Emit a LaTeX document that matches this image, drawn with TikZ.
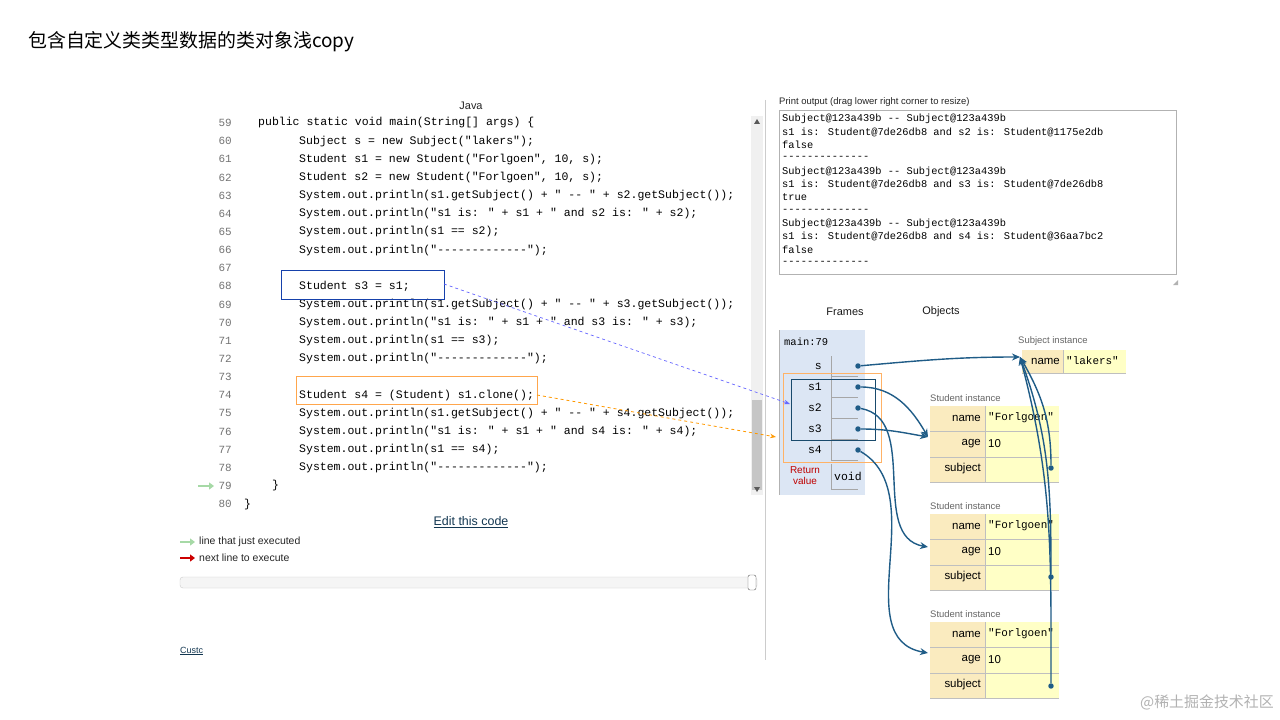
\documentclass[tikz,border=0pt]{standalone}
\usepackage{fontspec}
\setmainfont{Liberation Sans}
\newfontfamily\cjk{Noto Sans CJK SC}
\newfontfamily\mono{Liberation Mono}
\usetikzlibrary{arrows.meta}
\definecolor{ptr}{HTML}{1F5C87}
\definecolor{hcell}{HTML}{FAEBBF}
\definecolor{vcell}{HTML}{FFFFC6}
\definecolor{frm}{HTML}{DCE6F4}
\begin{document}
\begin{tikzpicture}[x=1bp,y=-1bp,
  code/.style={anchor=west,inner sep=0,font=\mono\fontsize{11.55}{12}\selectfont},
  ln/.style={anchor=east,inner sep=0,text=gray!90!black,font=\mono\fontsize{11}{12}\selectfont},
  outp/.style={anchor=west,inner sep=0,font=\mono\fontsize{10.4}{12}\selectfont},
  var/.style={anchor=east,inner sep=0,font=\mono\fontsize{11.5}{12}\selectfont},
  small/.style={inner sep=0,text=gray!80!black,font=\fontsize{9.5}{11}\selectfont},
  pa/.style={ptr,line width=1.4pt,-{Stealth[length=8pt,width=7pt]}},
  dot/.style={circle,fill=ptr,inner sep=0,minimum size=5.5pt}]
\useasboundingbox (0,0) rectangle (1280,720);
\fill[white] (0,0) rectangle (1280,720);
\node[anchor=west,inner sep=0,font=\cjk\fontsize{19}{22}\selectfont] (title) at (28,42) {包含自定义类类型数据的类对象浅copy};
% code panel
\node[inner sep=0,font=\fontsize{11}{12}\selectfont,text=gray!30!black] (java) at (471,106) {Java};
\fill[gray!12] (751,116) rectangle (763,495);
\fill[gray!45] (752,400) rectangle (762,490);
\fill[gray!70!black] (754,124) -- (760,124) -- (757,119) -- cycle;
\fill[gray!70!black] (754,487) -- (760,487) -- (757,492) -- cycle;
\draw[gray!40] (765,100) -- (765,660);
\foreach \n/\x/\t [count=\i from 0] in {
59/258/{public static void main(String[] args) \{},
60/299/{Subject s = new Subject("lakers");},
61/299/{Student s1 = new Student("Forlgoen", 10, s);},
62/299/{Student s2 = new Student("Forlgoen", 10, s);},
63/299/{System.out.println(s1.getSubject() + " -{}- " + s2.getSubject());},
64/299/{System.out.println("s1 is: " + s1 + " and s2 is: " + s2);},
65/299/{System.out.println(s1 == s2);},
66/299/{System.out.println("-{}-{}-{}-{}-{}-{}-{}-{}-{}-{}-{}-{}-");},
67/299/{},
68/299/{Student s3 = s1;},
69/299/{System.out.println(s1.getSubject() + " -{}- " + s3.getSubject());},
70/299/{System.out.println("s1 is: " + s1 + " and s3 is: " + s3);},
71/299/{System.out.println(s1 == s3);},
72/299/{System.out.println("-{}-{}-{}-{}-{}-{}-{}-{}-{}-{}-{}-{}-");},
73/299/{},
74/299/{Student s4 = (Student) s1.clone();},
75/299/{System.out.println(s1.getSubject() + " -{}- " + s4.getSubject());},
76/299/{System.out.println("s1 is: " + s1 + " and s4 is: " + s4);},
77/299/{System.out.println(s1 == s4);},
78/299/{System.out.println("-{}-{}-{}-{}-{}-{}-{}-{}-{}-{}-{}-{}-");},
79/272/{\}},
80/244/{\}}}{
  \node[ln] at (232,{123+18.15*\i}) {\n};
  \node[code] at (\x,{123+18.15*\i}) {\t};
}
\draw[ptr!70!blue,line width=0.8pt] (281,270) rectangle (444,299);
\draw[orange!70,line width=0.8pt] (296,376) rectangle (537,404);
\coordinate (b1) at (444,284);
\coordinate (b2) at (537,395);
\draw[green!40!gray!50,line width=2.5pt,-{Triangle[length=5pt,width=7pt]}] (198,486) -- (214,486);
\node[inner sep=0,text=ptr!60!black,font=\fontsize{12.5}{14}\selectfont] (edit) at (471,522) {\underline{Edit this code}};
\draw[green!40!gray!50,line width=2.5pt,-{Triangle[length=5pt,width=7pt]}] (180,542) -- (195,542);
\draw[red!80!black,line width=2.5pt,-{Triangle[length=5pt,width=7pt]}] (180,558) -- (195,558);
\node[anchor=west,small,font=\fontsize{10.5}{12}\selectfont,text=gray!30!black] (l1) at (199,542) {line that just executed};
\node[anchor=west,small,font=\fontsize{10.5}{12}\selectfont,text=gray!30!black] (l2) at (199,558) {next line to execute};
\draw[gray!40,fill=gray!8,rounded corners=3pt] (180,577) rectangle (757,588);
\draw[gray!70!black,fill=white,rounded corners=2pt] (748,575) rectangle (756,590);
\node[anchor=west,inner sep=0,text=ptr!60!black,font=\fontsize{9}{10}\selectfont] (cust) at (180,651) {\underline{Custc}};
% print output
\node[anchor=west,small,font=\fontsize{9.5}{11}\selectfont,text=gray!30!black] (pol) at (779,102) {Print output (drag lower right corner to resize)};
\draw[gray!60] (779,110) rectangle (1176,274);
\foreach \t [count=\i from 0] in {
Subject@123a439b -{}- Subject@123a439b,
s1 is: Student@7de26db8 and s2 is: Student@1175e2db,
false,
-{}-{}-{}-{}-{}-{}-{}-{}-{}-{}-{}-{}-{}-,
Subject@123a439b -{}- Subject@123a439b,
s1 is: Student@7de26db8 and s3 is: Student@7de26db8,
true,
-{}-{}-{}-{}-{}-{}-{}-{}-{}-{}-{}-{}-{}-,
Subject@123a439b -{}- Subject@123a439b,
s1 is: Student@7de26db8 and s4 is: Student@36aa7bc2,
false,
-{}-{}-{}-{}-{}-{}-{}-{}-{}-{}-{}-{}-{}-}{
  \node[outp] at (782,{119+13.1*\i}) {\t};
}
\fill[gray!60] (1178,280) -- (1178,285) -- (1173,285) -- cycle;
% frames
\node[inner sep=0,font=\fontsize{11}{12}\selectfont,text=gray!20!black] (fr) at (845,312) {Frames};
\node[inner sep=0,font=\fontsize{11}{12}\selectfont,text=gray!20!black] (ob) at (941,312) {Objects};
\fill[frm] (779,330) rectangle (865,495);
\draw[gray!60] (779,330) -- (779,495);
\node[anchor=west,inner sep=0,font=\mono\fontsize{10.5}{12}\selectfont] (mn) at (784,342) {main:79};
\foreach \v/\y in {s/366,s1/387,s2/408,s3/429,s4/450}{
  \node[var] at (822,\y) {\v};
  \draw[gray!70] (831,{\y-10}) -- (831,{\y+10}) -- (858,{\y+10});
}
\node[dot] (ps) at (858,366) {};
\node[dot] (p1) at (858,387) {};
\node[dot] (p2) at (858,408) {};
\node[dot] (p3) at (858,429) {};
\node[dot] (p4) at (858,450) {};
\node[inner sep=0,align=center,text=red!75!black,font=\fontsize{10}{11}\selectfont] (rv) at (805,476) {Return\\value};
\draw[gray!70] (831,464) -- (831,489) -- (858,489);
\node[anchor=west,inner sep=0,font=\mono\fontsize{11.5}{12}\selectfont] (void) at (834,476) {void};
\draw[orange!60,line width=0.7pt] (783,373) rectangle (881,462);
\draw[ptr!80!black,line width=0.8pt] (791,379) rectangle (875,440);
% heap
\node[anchor=west,small] (subl) at (1018,341) {Subject instance};
\fill[hcell] (1022,350) rectangle (1063,373);
\fill[vcell] (1063,350) rectangle (1126,373);
\draw[gray!50] (1063,350) -- (1063,373) (1022,373) -- (1126,373);
\node[anchor=east,inner sep=0,font=\fontsize{11.5}{12}\selectfont] at (1060,361) {name};
\node[anchor=west,inner sep=0,font=\mono\fontsize{11}{12}\selectfont] at (1066,361) {"lakers"};
\coordinate (subj) at (1020,357);
\foreach \k/\t in {1/406,2/514,3/622}{
  \node[anchor=west,small] at (930,{\t-8}) {Student instance};
  \fill[hcell] (930,\t) rectangle (985,{\t+76});
  \fill[vcell] (985,\t) rectangle (1059,{\t+76});
  \draw[gray!50] (985,\t) -- (985,{\t+76});
  \draw[gray!50] (930,{\t+25}) -- (1059,{\t+25}) (930,{\t+51}) -- (1059,{\t+51}) (930,{\t+76}) -- (1059,{\t+76});
  \node[anchor=east,inner sep=0,font=\fontsize{11.5}{12}\selectfont] at (981,{\t+12}) {name};
  \node[anchor=east,inner sep=0,font=\fontsize{11.5}{12}\selectfont] at (981,{\t+38}) {age};
  \node[anchor=east,inner sep=0,font=\fontsize{11.5}{12}\selectfont] at (981,{\t+63}) {subject};
  \node[anchor=west,inner sep=0,font=\mono\fontsize{11}{12}\selectfont] at (988,{\t+12}) {"Forlgoen"};
  \node[anchor=west,inner sep=0,font=\fontsize{11.5}{12}\selectfont] at (988,{\t+38}) {10};
}
\coordinate (st1) at (928,437);
\coordinate (st2) at (928,547);
\coordinate (st3) at (928,653);
\node[dot] (d1) at (1051,468) {};
\node[dot] (d2) at (1051,577) {};
\node[dot] (d3) at (1051,686) {};
% pointers
\draw[pa] (ps) to[out=5,in=180] (subj);
\draw[pa] (p1) to[out=0,in=120] (st1);
\draw[pa] (p3) to[out=0,in=170] (st1);
\draw[pa] (p2) to[out=-10,in=170] (st2);
\draw[pa] (p4) to[out=-30,in=170] (st3);
\draw[pa] (d1) to[out=90,in=-60] (subj);
\draw[pa] (d2) to[out=90,in=-70] (subj);
\draw[pa] (d3) to[out=90,in=-75] (subj);
% dashed links
\draw[blue!60,dashed,line width=0.7pt,-{Stealth[length=6pt]}] (b1) -- (790,404);
\draw[orange!80!yellow,dashed,line width=0.8pt,-{Stealth[length=6pt]}] (b2) -- (776,437);
\node[anchor=east,inner sep=0,text=gray!60,font=\cjk\fontsize{15}{17}\selectfont] (wm) at (1274,702) {@稀土掘金技术社区};
\end{tikzpicture}
\end{document}
